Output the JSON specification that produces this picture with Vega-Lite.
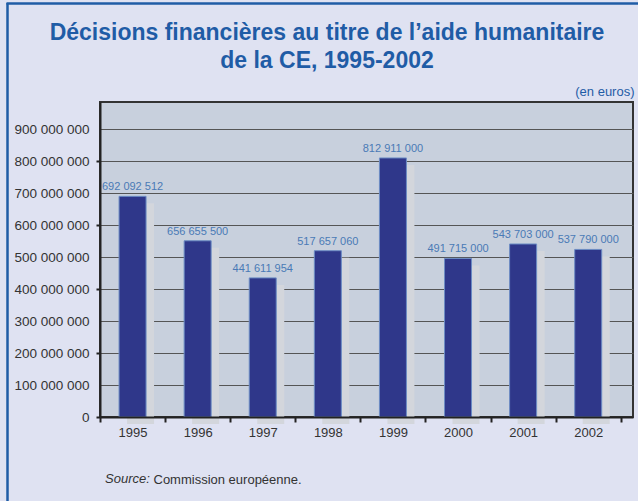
{
  "$schema": "https://vega.github.io/schema/vega-lite/v6.json",
  "width": 533,
  "height": 315,
  "autosize": {"type": "none"},
  "padding": {"left": 100, "top": 102, "right": 5, "bottom": 84},
  "background": "#dfe2f2",
  "title": {
    "text": ["Décisions financières au titre de l’aide humanitaire", "de la CE, 1995-2002"],
    "anchor": "middle",
    "frame": "group",
    "dx": -39.5,
    "dy": 79,
    "fontSize": 23,
    "font": "Liberation Sans",
    "fontWeight": "bold",
    "color": "#1f5ca6",
    "lineHeight": 28,
    "offset": 8
  },
  "data": {
    "values": [
      {"year": "1995", "value": 690000000, "label": "692 092 512"},
      {"year": "1996", "value": 551000000, "label": "656 655 500"},
      {"year": "1997", "value": 435000000, "label": "441 611 954"},
      {"year": "1998", "value": 520000000, "label": "517 657 060"},
      {"year": "1999", "value": 810000000, "label": "812 911 000"},
      {"year": "2000", "value": 496000000, "label": "491 715 000"},
      {"year": "2001", "value": 541000000, "label": "543 703 000"},
      {"year": "2002", "value": 524000000, "label": "537 790 000"}
    ]
  },
  "encoding": {
    "x": {
      "field": "year",
      "type": "nominal",
      "scale": {"paddingInner": 0, "paddingOuter": 0.094, "align": 0},
      "axis": {
        "zindex": 1,
        "title": "Commission européenne.",
        "titleFont": "Liberation Sans",
        "titleFontSize": 13,
        "titleFontWeight": "normal",
        "titleColor": "#333333",
        "titleAnchor": "start",
        "titleAlign": "left",
        "titleBaseline": "alphabetic",
        "titleX": 53,
        "titleY": 66,
        "labelAngle": 0,
        "labelFont": "Liberation Sans",
        "labelFontSize": 13,
        "labelColor": "#333333",
        "labelPadding": 4,
        "tickBand": "extent",
        "tickSize": 5,
        "tickWidth": 2,
        "tickColor": "#222222",
        "domainColor": "#222222",
        "domainWidth": 2,
        "grid": false
      }
    },
    "y": {
      "field": "value",
      "type": "quantitative",
      "scale": {"domain": [0, 985000000], "nice": false},
      "axis": {
        "title": "(en euros)",
        "titleAngle": 0,
        "titleFont": "Liberation Sans",
        "titleFontSize": 13,
        "titleFontWeight": "normal",
        "titleColor": "#1f5ca6",
        "titleAlign": "right",
        "titleBaseline": "alphabetic",
        "titleX": 534,
        "titleY": -7,
        "values": [0, 100000000, 200000000, 300000000, 400000000, 500000000, 600000000, 700000000, 800000000, 900000000],
        "format": ",d",
        "labelFont": "Liberation Sans",
        "labelFontSize": 13.5,
        "labelColor": "#333333",
        "labelPadding": 7,
        "tickSize": 4,
        "tickWidth": 2,
        "tickColor": "#222222",
        "tickOpacity": {"expr": "datum.value % 200000000 == 0 ? 1 : 0"},
        "domainColor": "#222222",
        "domainWidth": 2,
        "grid": true,
        "gridColor": "#555555",
        "gridWidth": 1
      }
    }
  },
  "layer": [
    {
      "mark": {"type": "bar", "width": 27, "xOffset": 8, "x2Offset": 8, "yOffset": 7, "color": "#d3d6dc"}
    },
    {
      "mark": {"type": "bar", "width": 27, "color": "#2f378a", "stroke": "#6c8cc4", "strokeWidth": 1}
    },
    {
      "mark": {"type": "text", "baseline": "bottom", "dy": -4, "font": "Liberation Sans", "fontSize": 11, "color": "#4a7ab6"},
      "encoding": {"text": {"field": "label"}}
    },
    {
      "data": {"values": [{"t": "Source:"}]},
      "mark": {"type": "text", "fontStyle": "italic", "font": "Liberation Sans", "fontSize": 13, "color": "#333333", "align": "left", "baseline": "alphabetic"},
      "encoding": {"text": {"field": "t"}, "x": {"value": 5}, "y": {"value": 381}}
    },
    {
      "data": {"values": [{}]},
      "mark": {"type": "rule", "color": "#1f5ca6", "strokeWidth": 2.5},
      "encoding": {"x": {"value": -92.5}, "y": {"value": -99}, "y2": {"value": 399}}
    },
    {
      "data": {"values": [{}]},
      "mark": {"type": "rule", "color": "#1f5ca6", "strokeWidth": 2.5},
      "encoding": {"y": {"value": -98.5}, "x": {"value": -93.5}, "x2": {"value": 538}}
    }
  ],
  "config": {
    "locale": {"number": {"decimal": ",", "thousands": " ", "grouping": [3], "currency": ["", " €"]}},
    "view": {"fill": "#c8d0dd", "stroke": "#333333", "strokeWidth": 2}
  }
}
